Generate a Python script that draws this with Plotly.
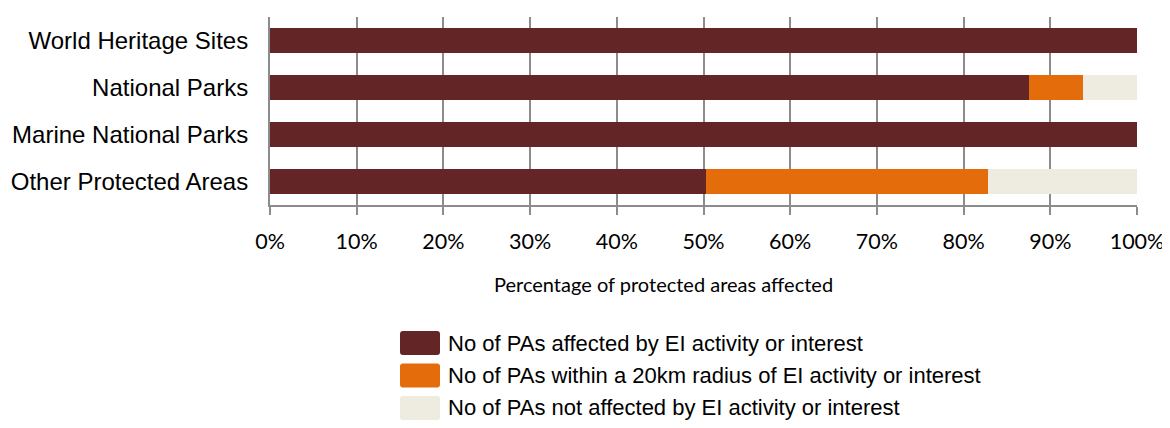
import plotly.graph_objects as go

app_color = {"affected": "#632526", "radius": "#E46C0A", "not_affected": "#EEECE1", "grid": "#8C8C8C"}

categories = ["World Heritage Sites", "National Parks", "Marine National Parks", "Other Protected Areas"]
affected = [100, 87.5, 100, 50.3]
within_20km = [0, 6.25, 0, 32.5]
not_affected = [0, 6.25, 0, 17.2]

series_names = [
    "No of PAs affected by EI activity or interest",
    "No of PAs within a 20km radius of EI activity or interest",
    "No of PAs not affected by EI activity or interest",
]
series_values = [affected, within_20km, not_affected]
series_colors = [app_color["affected"], app_color["radius"], app_color["not_affected"]]
x_title = "Percentage of protected areas affected"

# page body has an 8px margin, so the figure is a bit smaller and everything is shifted up/left
off = 8
W, H = 1170 - off, 428 - off
plot_top, plot_bottom = 17 - off, 205 - off
plot_left, plot_right = 270 - off, 1137 - off

fig = go.Figure()
for name, vals, col in zip(series_names, series_values, series_colors):
    fig.add_trace(go.Bar(y=categories, x=vals, name=name, orientation="h",
                         marker=dict(color=col, line=dict(width=0)), showlegend=False))

fig.update_layout(
    width=W, height=H,
    barmode="stack", bargap=0.45,
    plot_bgcolor="white", paper_bgcolor="white",
    margin=dict(l=plot_left, r=W - plot_right, t=plot_top, b=H - plot_bottom, pad=0),
    font=dict(family="Liberation Sans, Arial", color="black"),
)
fig.update_yaxes(autorange="reversed", showgrid=False, showline=True, linecolor=app_color["grid"],
                 linewidth=2, ticks="", tickfont=dict(size=24, family="Liberation Sans, Arial"),
                 ticklabelstandoff=15, automargin=False)
fig.update_xaxes(range=[0, 100], dtick=10, ticksuffix="%", showgrid=True, gridcolor=app_color["grid"],
                 gridwidth=1.5, showline=True, linecolor=app_color["grid"], linewidth=2,
                 ticks="outside", ticklen=8, tickcolor=app_color["grid"], tickwidth=2,
                 tickfont=dict(size=21.5, family="Lato"), ticklabelstandoff=8,
                 zeroline=False, automargin=False)

# screen pixel -> paper coords
ph = plot_bottom - plot_top
def py(p):
    return (plot_bottom - (p - off)) / ph

pw = plot_right - plot_left
def px_(p):
    return ((p - off) - plot_left) / pw

def rounded_box(x0, x1, y0, y1, r=3):
    # rounded rectangle path, screen pixels in, paper coords out
    pts = [
        f"M {px_(x0 + r)},{py(y0)}", f"L {px_(x1 - r)},{py(y0)}",
        f"Q {px_(x1)},{py(y0)} {px_(x1)},{py(y0 + r)}", f"L {px_(x1)},{py(y1 - r)}",
        f"Q {px_(x1)},{py(y1)} {px_(x1 - r)},{py(y1)}", f"L {px_(x0 + r)},{py(y1)}",
        f"Q {px_(x0)},{py(y1)} {px_(x0)},{py(y1 - r)}", f"L {px_(x0)},{py(y0 + r)}",
        f"Q {px_(x0)},{py(y0)} {px_(x0 + r)},{py(y0)} Z",
    ]
    return " ".join(pts)

# axis title sits left of the plot centre in the original
fig.add_annotation(xref="paper", yref="paper", x=px_(663), y=py(284), text=x_title,
                   showarrow=False, xanchor="center", yanchor="middle",
                   font=dict(size=20, family="Lato", color="black"))

# legend drawn by hand with big swatches
for i, (name, col) in enumerate(zip(series_names, series_colors)):
    cy = 343 + i * 32.5
    fig.add_shape(type="path", xref="paper", yref="paper",
                  path=rounded_box(400, 440, cy - 12, cy + 12),
                  fillcolor=col, line=dict(width=0), layer="above")
    fig.add_annotation(xref="paper", yref="paper", x=px_(446), y=py(cy), text=name,
                       showarrow=False, xanchor="left", yanchor="middle",
                       font=dict(size=22, family="Liberation Sans, Arial", color="black"))

fig.write_html("out.html")
